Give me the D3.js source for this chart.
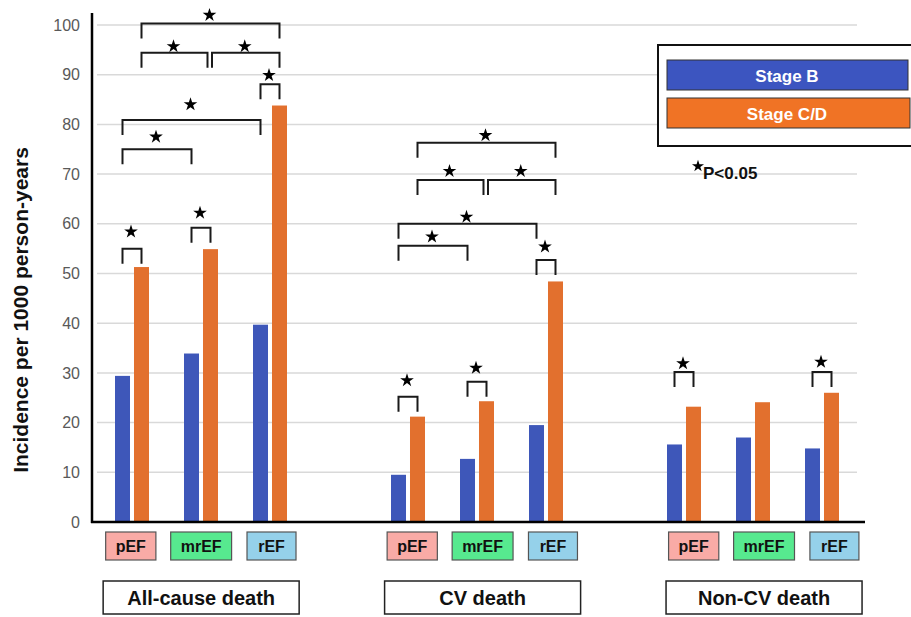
<!DOCTYPE html>
<html>
<head>
<meta charset="utf-8">
<script src="https://cdn.jsdelivr.net/npm/d3@7"></script>
<style>
  html, body { margin: 0; padding: 0; background: #fff; }
  svg { display: block; font-family: "Liberation Sans", Arial, sans-serif; }
</style>
</head>
<body>
<svg id="chart" width="911" height="617"></svg>
<script>
// Outcome groups and EF categories
const groups = ["All-cause death", "CV death", "Non-CV death"];
const efTypes = ["pEF", "mrEF", "rEF"];
const seriesNames = ["Stage B", "Stage C/D"];

// Incidence per 1000 person-years, ordered group by group (pEF, mrEF, rEF)
const stageB  = [29.4, 33.9, 39.7,  9.5, 12.7, 19.5, 15.6, 17.0, 14.8];
const stageCD = [51.3, 54.9, 83.8, 21.2, 24.3, 48.4, 23.2, 24.1, 26.0];

const yTicks = [0, 10, 20, 30, 40, 50, 60, 70, 80, 90, 100];

// Significance brackets: ends are [efIndex, seriesIndex] within a group,
// level is the bracket height and star the marker height, both in axis units
const bracketsAllCause = [
  { from: [0, 1], to: [2, 1], level: 100.3, star: 102.2 },
  { from: [0, 1], to: [1, 1], level: 94.4,  star: 95.9 },
  { from: [1, 1], to: [2, 1], level: 94.4,  star: 95.9 },
  { from: [2, 0], to: [2, 1], level: 88.1,  star: 90.1 },
  { from: [0, 0], to: [2, 0], level: 80.9,  star: 84.2 },
  { from: [0, 0], to: [1, 0], level: 75.0,  star: 77.7 },
  { from: [0, 0], to: [0, 1], level: 55.0,  star: 58.6 },
  { from: [1, 0], to: [1, 1], level: 59.2,  star: 62.4 }
];
const bracketsCV = [
  { from: [0, 1], to: [2, 1], level: 76.3, star: 78.0 },
  { from: [0, 1], to: [1, 1], level: 68.8, star: 70.8 },
  { from: [1, 1], to: [2, 1], level: 68.8, star: 70.8 },
  { from: [0, 0], to: [2, 0], level: 60.0, star: 61.6 },
  { from: [0, 0], to: [1, 0], level: 55.6, star: 57.6 },
  { from: [2, 0], to: [2, 1], level: 52.7, star: 55.6 },
  { from: [0, 0], to: [0, 1], level: 25.2, star: 28.7 },
  { from: [1, 0], to: [1, 1], level: 28.2, star: 31.2 }
];
const bracketsNonCV = [
  { from: [0, 0], to: [0, 1], level: 30.2, star: 32.1 },
  { from: [2, 0], to: [2, 1], level: 30.2, star: 32.4 }
];
const bracketSets = [bracketsAllCause, bracketsCV, bracketsNonCV];

const barColors = ["#3e57b9", "#e2702e"];
const legendColors = ["#3c55c0", "#f07325"];
const efColors = { pEF: "#f9aba6", mrEF: "#57e98f", rEF: "#95d1ea" };

const svg = d3.select("#chart");

// One slot per EF category, with an empty slot between outcome groups
const slotOf = (g, e) => g * 4 + e;
const x = d3.scaleBand().domain(d3.range(11)).range([97.5, 856.5]).padding(0);
const half = x.bandwidth() / 2;
const xs = d3.scaleBand().domain([0, 1]).range([half - 17, half + 17]).paddingInner(0.21);
// label row below the axis uses its own, slightly wider spacing
const xl = d3.scaleBand().domain(d3.range(11)).range([95.6, 869.6]).padding(0);
const y = d3.scaleLinear().domain([0, 100]).range([522, 25]);

const barX = (g, e, s) => x(slotOf(g, e)) + xs(s);
const barCX = (g, e, s) => barX(g, e, s) + xs.bandwidth() / 2;

// Gridlines
svg.append("g")
  .selectAll("line")
  .data(yTicks.filter(t => t > 0))
  .join("line")
  .attr("x1", 97).attr("x2", 857)
  .attr("y1", d => y(d)).attr("y2", d => y(d))
  .attr("stroke", "#d9d9d9").attr("stroke-width", 1.5);

// Y axis tick labels
const yAxis = d3.axisLeft(y).tickValues(yTicks).tickSize(0).tickPadding(12);
const yg = svg.append("g").attr("transform", "translate(92,0)").call(yAxis);
yg.select(".domain").remove();
yg.selectAll("text")
  .attr("font-family", "Liberation Sans, Arial, sans-serif")
  .attr("font-size", 16).attr("fill", "#595959");

// Y axis title
svg.append("text")
  .attr("transform", `translate(28,310) rotate(-90)`)
  .attr("text-anchor", "middle")
  .attr("font-size", 21).attr("font-weight", "bold").attr("fill", "#111")
  .text("Incidence per 1000 person-years");

// Bars
const barData = [];
groups.forEach((grp, g) => {
  efTypes.forEach((ef, e) => {
    const i = g * 3 + e;
    barData.push({ g, e, s: 0, v: stageB[i] });
    barData.push({ g, e, s: 1, v: stageCD[i] });
  });
});
svg.append("g")
  .selectAll("rect")
  .data(barData)
  .join("rect")
  .attr("x", d => barX(d.g, d.e, d.s))
  .attr("width", xs.bandwidth())
  .attr("y", d => y(d.v))
  .attr("height", d => y(0) - y(d.v))
  .attr("fill", d => barColors[d.s]);

// Axis lines
svg.append("line")
  .attr("x1", 92).attr("x2", 92).attr("y1", 13).attr("y2", y(0) + 1)
  .attr("stroke", "#000").attr("stroke-width", 2.5);
svg.append("line")
  .attr("x1", 91).attr("x2", 865).attr("y1", y(0)).attr("y2", y(0))
  .attr("stroke", "#000").attr("stroke-width", 2.5);

// Significance brackets with stars
const star = d3.symbol(d3.symbolStar, 58);
const bg = svg.append("g");
bracketSets.forEach((set, g) => {
  set.forEach((b, bi) => {
    let x1 = barCX(g, b.from[0], b.from[1]);
    let x2 = barCX(g, b.to[0], b.to[1]);
    // brackets meeting at the same bar and level are pulled apart slightly
    set.forEach((o, oi) => {
      if (oi === bi || o.level !== b.level) return;
      if (o.from[0] === b.to[0] && o.from[1] === b.to[1]) x2 -= 3;
      if (o.to[0] === b.from[0] && o.to[1] === b.from[1]) x1 += 1.5;
    });
    const yl = y(b.level);
    const leg = 15;
    bg.append("path")
      .attr("d", `M${x1},${yl + leg}V${yl}H${x2}V${yl + leg}`)
      .attr("fill", "none").attr("stroke", "#1a1a1a").attr("stroke-width", 2);
    bg.append("path")
      .attr("d", star())
      .attr("transform", `translate(${(x1 + x2) / 2 - 1},${y(b.star) + 1})`)
      .attr("fill", "#000");
  });
});

// EF category labels under each bar pair
const efg = svg.append("g");
groups.forEach((grp, g) => {
  efTypes.forEach((ef, e) => {
    const cx = xl(slotOf(g, e)) + xl.bandwidth() / 2;
    const t = efg.append("text")
      .attr("x", cx).attr("y", 552)
      .attr("text-anchor", "middle")
      .attr("font-size", 16).attr("font-weight", "bold").attr("fill", "#111")
      .text(ef);
    const w = Math.max(49, t.node().getComputedTextLength() + 20);
    efg.insert("rect", "text")
      .attr("x", cx - w / 2).attr("y", 532)
      .attr("width", w).attr("height", 28)
      .attr("fill", efColors[ef]).attr("stroke", "#555").attr("stroke-width", 1.2);
  });
});

// Outcome group labels
const gg = svg.append("g");
groups.forEach((grp, g) => {
  const cx = xl(slotOf(g, 1)) + xl.bandwidth() / 2;
  gg.append("rect")
    .attr("x", cx - 98).attr("y", 581)
    .attr("width", 196).attr("height", 33)
    .attr("fill", "#fff").attr("stroke", "#222").attr("stroke-width", 1.5);
  gg.append("text")
    .attr("x", cx).attr("y", 605)
    .attr("text-anchor", "middle")
    .attr("font-size", 20).attr("font-weight", "bold").attr("fill", "#111")
    .text(grp);
});

// Legend
const lg = svg.append("g");
lg.append("rect")
  .attr("x", 658).attr("y", 45).attr("width", 270).attr("height", 101)
  .attr("fill", "#fff").attr("stroke", "#111").attr("stroke-width", 2);
seriesNames.forEach((name, i) => {
  lg.append("rect")
    .attr("x", 667).attr("y", 60 + i * 38)
    .attr("width", 241 + i * 2).attr("height", 30)
    .attr("fill", legendColors[i]).attr("stroke", "#333").attr("stroke-width", 1);
  lg.append("text")
    .attr("x", 787).attr("y", 82 + i * 38)
    .attr("text-anchor", "middle")
    .attr("font-size", 17).attr("font-weight", "bold").attr("fill", "#fff")
    .text(name);
});

// Significance note
const note = svg.append("g");
note.append("path")
  .attr("d", d3.symbol(d3.symbolStar, 45)())
  .attr("transform", `translate(698,${y(71.6)})`)
  .attr("fill", "#000");
note.append("text")
  .attr("x", 703).attr("y", y(69.0))
  .attr("font-size", 17).attr("font-weight", "bold").attr("fill", "#111")
  .text("P<0.05");
</script>
</body>
</html>
